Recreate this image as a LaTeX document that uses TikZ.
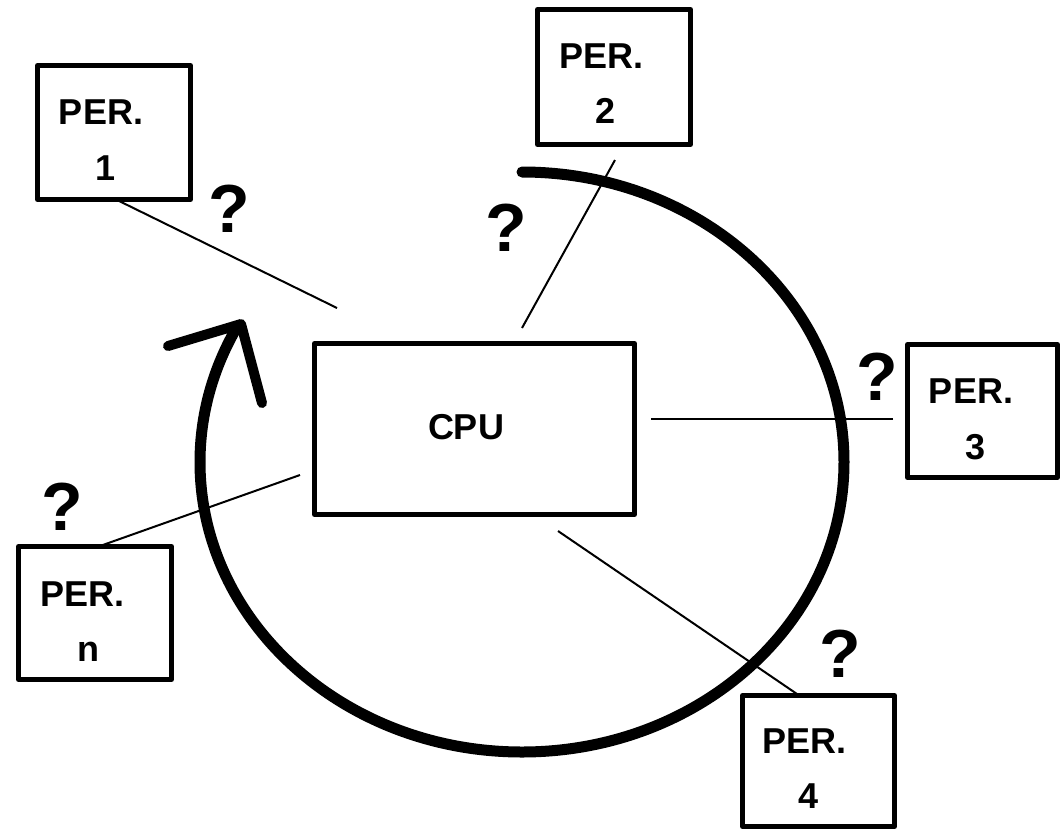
\documentclass[tikz,border=0pt]{standalone}
\usepackage{fontspec}
\setmainfont{Liberation Sans}
\begin{document}
\begin{tikzpicture}[x=1pt,y=1pt,
  box/.style={draw, line width=5pt, line join=round, inner sep=0pt},
  lbl/.style={font=\bfseries\fontsize{36}{36}\selectfont, anchor=base, inner sep=0pt},
  qmark/.style={font=\bfseries\fontsize{68}{68}\selectfont, inner sep=0pt},
  link/.style={line width=2pt},
  loop/.style={line width=11pt, line cap=round, line join=round}]
\useasboundingbox (0,0) rectangle (1061,-831);

% central processor
\node[box, minimum width=320pt, minimum height=171pt] (cpu) at (474.5,-429) {};
\node[lbl] (cpulbl) at (466,-439.3) {CPU};

% peripherals
\node[box, minimum width=153pt, minimum height=134pt] (p1) at (114,-132.5) {};
\node[lbl] (p1a) at (101,-124) {PER.};
\node[lbl] (p1b) at (106,-180) {1};

\node[box, minimum width=153pt, minimum height=135pt] (p2) at (614,-77) {};
\node[lbl] (p2a) at (601.5,-68.3) {PER.};
\node[lbl] (p2b) at (606,-123.3) {2};

\node[box, minimum width=150pt, minimum height=133pt] (p3) at (982.5,-411) {};
\node[lbl] (p3a) at (971,-403.3) {PER.};
\node[lbl] (p3b) at (976,-459) {3};

\node[box, minimum width=152pt, minimum height=131pt] (p4) at (818.5,-761) {};
\node[lbl] (p4a) at (804.7,-753.3) {PER.};
\node[lbl] (p4b) at (809,-808) {4};

\node[box, minimum width=153pt, minimum height=133pt] (pn) at (95,-613) {};
\node[lbl] (pna) at (82.3,-606.7) {PER.};
\node[lbl] (pnb) at (88,-661.7) {n};

% connector end points
\coordinate (a1) at (113,-198);  \coordinate (c1) at (337,-308);
\coordinate (a2) at (615,-160);  \coordinate (c2) at (522,-328);
\coordinate (a3) at (893,-419);  \coordinate (c3) at (651,-419);
\coordinate (a4) at (797,-694);  \coordinate (c4) at (558,-531);
\coordinate (an) at (100,-546);  \coordinate (cn) at (300,-475);

\draw[link] (a1) -- (c1);
\draw[link] (a2) -- (c2);
\draw[link] (a3) -- (c3);
\draw[link] (a4) -- (c4);
\draw[link] (an) -- (cn);

% question marks
\node[qmark] (q1) at (229,-209) {?};
\node[qmark] (q2) at (506.5,-228) {?};
\node[qmark] (q3) at (877,-377) {?};
\node[qmark] (q4) at (840,-654) {?};
\node[qmark] (qn) at (62,-507) {?};

% polling cycle
\draw[loop] (522,-172) arc[start angle=90, end angle=-208, x radius=322pt, y radius=290pt];
\coordinate (tip) at (241,-324);
\coordinate (armL) at (168,-346);
\coordinate (armR) at (262,-403);
\draw[loop, line width=10pt] (armL) -- (tip) -- (armR);
\end{tikzpicture}
\end{document}
